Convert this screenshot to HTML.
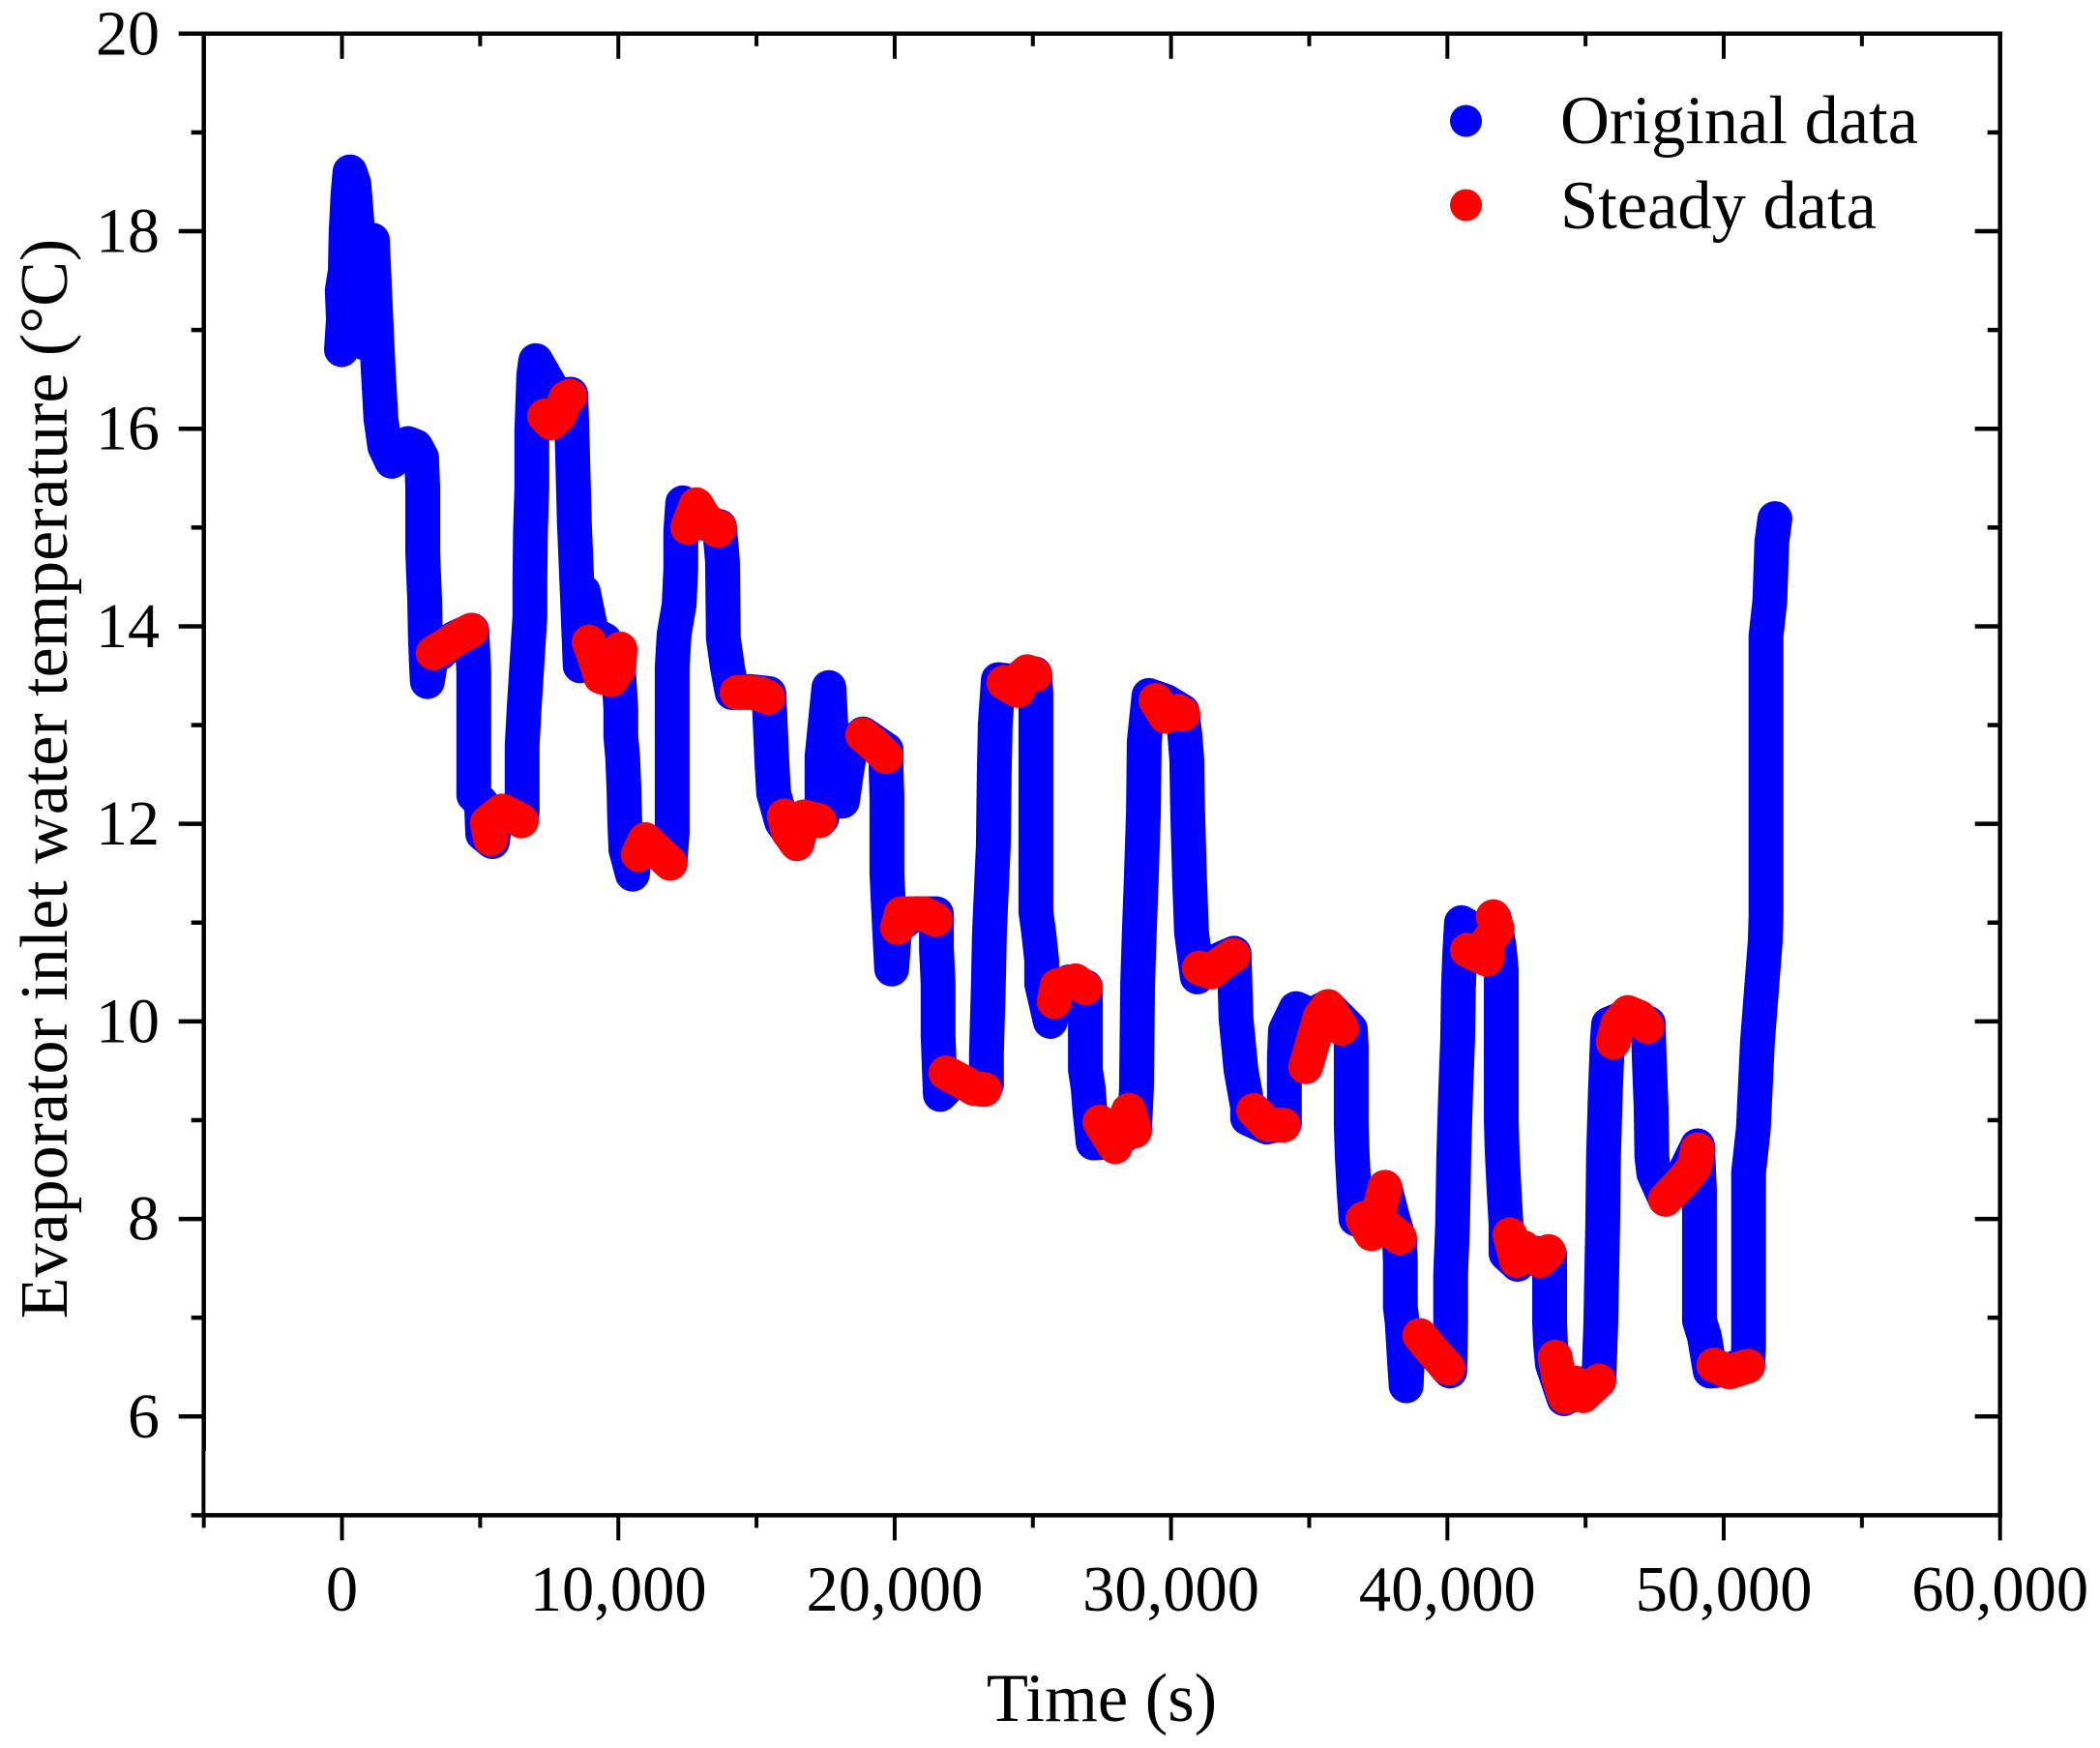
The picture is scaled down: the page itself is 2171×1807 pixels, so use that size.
<!DOCTYPE html>
<html lang="en">
<head>
<meta charset="utf-8">
<title>Evaporator inlet water temperature</title>
<style>
html,body{margin:0;padding:0;background:#fff;}
svg{display:block;}
text{font-family:"Liberation Serif",serif;fill:#000;}
</style>
</head>
<body>
<svg id="chart" xmlns="http://www.w3.org/2000/svg" width="2171" height="1807" viewBox="0 0 2171 1807">
<rect x="0" y="0" width="2171" height="1807" fill="#fff"/>
<g id="series"></g>
<g id="axes"></g>
<text x="1139" y="1779" font-size="70.5" text-anchor="middle">Time (s)</text>
<text transform="translate(69,805) rotate(-90)" font-size="70" text-anchor="middle">Evaporator inlet water temperature (°C)</text>
<g>
<circle cx="1515.5" cy="125" r="16.5" fill="#0000ff"/>
<text x="1613" y="148" font-size="70.5">Original data</text>
<circle cx="1515.5" cy="212" r="16.5" fill="#ff0000"/>
<text x="1613" y="236" font-size="70.5">Steady data</text>
</g>
</svg>
<script>
const xTicks = [-5000,0,5000,10000,15000,20000,25000,30000,35000,40000,45000,50000,55000,60000];
const xTickLabels = ["","0","","10,000","","20,000","","30,000","","40,000","","50,000","","60,000"];
const yTicks = [5,6,7,8,9,10,11,12,13,14,15,16,17,18,19,20];
const yTickLabels = ["","6","","8","","10","","12","","14","","16","","18","","20"];

const originalTime = [-20,50,10,120,150,220,290,430,540,640,780,430,920,1100,1210,1310,1410,1550,1800,2040,2390,2670,2880,2920,2920,2920,2920,2950,2990,3020,3060,3090,3230,3550,4070,4700,4770,4770,4770,4770,5050,5090,5440,5540,6520,6520,6520,6590,6800,6800,6820,6870,6870,6940,7010,7750,8280,8340,8410,8520,8620,8730,9040,9500,9740,10020,10090,10090,10160,10200,10230,10270,10510,10600,10970,11420,11880,11950,11950,11950,11950,11950,11950,11950,12020,12200,12260,12260,12330,13000,13660,13770,13800,13950,14120,14750,15450,15560,15620,15910,16460,16670,17370,17370,17620,17730,18110,18250,18420,18850,19690,19690,19720,19720,19720,19720,19720,19790,19890,20000,20700,21510,21510,21570,21570,21650,22100,23320,23320,23390,23430,23570,23600,23640,23750,24370,25070,25110,25110,25110,25110,25110,25110,25110,25110,25110,25110,25210,25320,25320,25630,25770,26300,26900,26900,26900,26900,27000,27070,27180,27880,28680,28750,28790,28850,28920,29000,29030,29200,29800,30400,30500,30570,30600,30670,30740,30950,31550,32280,32350,32530,32770,32770,33470,34100,34100,34100,34100,34140,34520,35080,35680,36490,36520,36520,36520,36520,36520,36560,36620,36690,37320,37740,38030,38270,38300,38300,38300,38370,38440,38510,38580,39000,39420,40090,40120,40120,40190,40230,40300,40370,40400,40440,40510,41170,41700,41880,41950,41950,41950,41950,41950,41950,41950,41950,41980,42050,42120,42120,42540,42930,43700,43700,43700,43700,43730,43800,44220,44500,45020,45480,45550,45620,45650,45720,45790,45830,46600,47270,47300,47370,47400,47470,47890,48530,49050,49120,49120,49120,49120,49120,49120,49300,49510,50280,50870,50900,50900,50900,50900,50900,50900,50900,50900,50900,51070,51220,51500,51530,51530,51530,51530,51530,51530,51530,51530,51530,51530,51530,51530,51670,51740,51850];
const originalTemp = [16.80,17.11,17.40,17.60,17.99,18.38,18.60,18.48,18.09,17.50,17.01,16.91,16.86,17.91,17.21,16.59,16.10,15.82,15.67,15.74,15.85,15.82,15.71,15.41,15.12,14.91,14.75,14.55,14.27,13.88,13.58,13.44,13.68,13.73,13.88,13.96,13.54,12.98,12.42,12.29,12.21,11.90,11.82,12.02,12.11,12.27,12.79,13.16,14.10,14.47,14.96,15.41,15.97,16.54,16.69,16.33,16.35,15.79,15.04,14.29,13.60,14.35,13.93,13.86,13.68,13.49,13.16,12.89,12.66,12.36,12.05,11.74,11.49,11.70,11.84,11.72,11.64,11.91,12.23,12.49,12.81,13.11,13.37,13.59,13.92,14.22,14.59,14.96,15.25,15.05,15.01,14.66,13.88,13.58,13.33,13.34,13.32,12.60,12.31,12.02,11.80,12.02,12.06,12.68,13.38,12.79,12.23,12.51,12.80,12.91,12.75,12.53,12.27,12.03,11.85,11.65,11.50,11.08,10.53,10.94,11.09,11.09,10.74,10.38,9.86,9.26,9.39,9.36,9.68,10.38,10.90,11.78,12.48,13.01,13.46,13.44,13.52,13.32,13.03,12.79,12.46,12.20,11.99,11.78,11.53,11.34,11.11,10.90,10.62,10.38,10.00,10.25,10.40,10.35,10.03,9.75,9.51,9.33,9.08,8.77,8.78,8.91,9.33,10.38,10.90,11.43,12.12,12.83,13.30,13.24,13.14,12.90,12.65,12.12,11.43,10.90,10.45,10.60,10.69,10.03,9.51,9.13,9.02,8.93,8.97,9.23,9.47,9.63,9.91,10.13,10.06,10.15,9.92,9.74,9.49,9.31,9.10,8.95,8.63,8.29,8.00,7.95,8.32,8.00,7.78,7.55,7.41,7.11,6.94,6.60,6.31,6.78,6.82,6.68,6.46,6.94,7.44,7.95,8.63,9.30,9.81,10.32,10.65,11.00,10.89,11.04,10.74,10.52,10.21,9.93,9.69,9.49,9.30,9.17,9.00,8.70,8.29,7.95,7.65,7.54,7.66,7.64,7.32,7.16,6.95,6.74,6.53,6.18,6.22,6.34,6.36,6.94,7.95,8.63,9.30,9.81,9.97,10.06,9.98,9.65,9.14,8.63,8.46,8.20,8.44,8.74,8.29,8.02,7.78,7.51,7.23,6.97,6.81,6.46,6.48,6.54,6.72,6.95,7.20,7.40,7.64,7.84,8.05,8.29,8.47,8.91,9.80,10.81,11.07,11.43,11.73,12.06,12.39,12.68,12.89,13.16,13.37,13.57,13.75,13.90,14.26,14.85,15.09];

const steadyTime = [3300,3720,4040,4350,4670,null,5370,5260,5470,5790,6170,6490,null,7330,7570,7850,8100,8240,null,8940,9150,9360,9740,10020,10060,null,10720,10970,11420,11880,null,12510,12820,13100,13590,13660,null,14290,14750,15100,15410,null,16000,16150,16460,16600,16710,17270,null,18840,19260,19680,null,20100,20240,21050,21470,null,21850,22450,22870,23250,null,23950,24450,24590,24800,25070,null,25770,25880,26540,26900,null,27420,27980,28220,28470,28680,null,29450,29800,30250,30430,null,31020,31450,31830,32250,null,32990,33470,34070,null,34870,35150,35400,35680,36170,null,37740,37500,36940,37250,37670,38270,null,39000,39420,40020,null,41660,41800,41420,41420,40720,null,42260,42500,42750,43340,43660,null,43900,44040,44250,44600,44910,45480,null,46000,46180,46530,46950,47230,null,47890,48630,48950,49050,null,49640,50200,50870];
const steadyTemp = [13.73,13.80,13.86,13.91,13.96,null,11.85,12.01,12.06,12.13,12.08,12.03,null,16.13,16.06,16.13,16.31,16.33,null,13.84,13.68,13.49,13.46,13.58,13.77,null,11.69,11.84,11.72,11.60,null,15.00,15.23,15.10,14.97,15.00,null,13.33,13.33,13.32,13.28,null,12.08,11.92,11.80,11.97,12.07,12.03,null,12.90,12.80,12.68,null,10.95,11.09,11.09,11.03,null,9.48,9.39,9.32,9.31,null,13.43,13.35,13.49,13.54,13.51,null,10.20,10.36,10.41,10.34,null,8.98,8.73,8.93,9.10,8.89,null,13.25,13.09,13.14,13.11,null,10.54,10.50,10.59,10.67,null,9.10,8.96,8.95,null,9.54,9.81,10.05,10.15,9.93,null,8.32,8.05,8.00,7.85,7.95,7.81,null,6.82,6.68,6.49,null,11.06,10.94,10.79,10.63,10.72,null,7.84,7.58,7.71,7.58,7.67,null,6.60,6.38,6.20,6.34,6.21,6.36,null,9.79,9.98,10.09,10.04,9.95,null,8.20,8.42,8.54,8.70,null,6.52,6.45,6.51];

const SVG_NS = "http://www.w3.org/2000/svg";
const plotLeft = 210.7, plotRight = 2067.7, plotTop = 34.8, plotBottom = 1566.4;
const xMin = -5000, xMax = 60000, yMin = 5, yMax = 20;
const markerRadius = 16.5, bandWidth = 36, axisWidth = 4.5;

function xScale(t) { return plotLeft + (t - xMin) / (xMax - xMin) * (plotRight - plotLeft); }
function yScale(v) { return plotBottom - (v - yMin) / (yMax - yMin) * (plotBottom - plotTop); }

function make(tag, parent, attrs) {
  const el = document.createElementNS(SVG_NS, tag);
  for (const k in attrs) el.setAttribute(k, attrs[k]);
  parent.appendChild(el);
  return el;
}

function drawSeries(parent, times, temps, colour, seriesName) {
  const group = make("g", parent, {});
  
  
  let d = "", pen = false;
  for (let i = 0; i < times.length; i++) {
    if (times[i] === null) { pen = false; continue; }
    d += (pen ? "L" : "M") + xScale(times[i]).toFixed(1) + " " + yScale(temps[i]).toFixed(1);
    pen = true;
  }
  const band = make("path", group, {d: d, fill: "none", stroke: colour, "stroke-width": bandWidth, "stroke-linejoin": "round", "stroke-linecap": "round"});
  
  
  for (let i = 0; i < times.length; i++) {
    if (times[i] === null) continue;
    const dot = make("circle", group, {cx: xScale(times[i]).toFixed(1), cy: yScale(temps[i]).toFixed(1), r: markerRadius, fill: colour});
    
    
  }
}

const seriesLayer = document.getElementById("series");
drawSeries(seriesLayer, originalTime, originalTemp, "#0000ff", "original-data-series");
drawSeries(seriesLayer, steadyTime, steadyTemp, "#ff0000", "steady-data-series");

const axesLayer = document.getElementById("axes");
function axisLine(x1, y1, x2, y2, name, width) {
  const ln = make("line", axesLayer, {x1: x1, y1: y1, x2: x2, y2: y2, stroke: "#000", "stroke-width": width});
  
  
}
axisLine(plotLeft, plotTop - 2.2, plotLeft, 1500, "left-axis", axisWidth);
axisLine(plotLeft - 0.3, 1500, plotLeft - 0.3, plotBottom + 2, "left-axis-lower", 4);
axisLine(plotRight, plotTop - 2.2, plotRight, plotBottom + 2.2, "right-axis", axisWidth);
axisLine(plotLeft - 2.2, plotTop, plotRight + 2.2, plotTop, "top-axis", axisWidth);
axisLine(plotLeft - 2.2, plotBottom, plotRight + 2.2, plotBottom, "bottom-axis", axisWidth);

xTicks.forEach(function (t, i) {
  const x = xScale(t);
  const major = xTickLabels[i] !== "";
  const len = major ? 26 : 13;
  axisLine(x, plotBottom, x, plotBottom + len, "x-tick", 4);
  if (t > xMin && t < xMax) axisLine(x, plotTop, x, plotTop + len, "x-tick-top", 4);
  if (major) {
    const label = make("text", axesLayer, {x: x, y: 1665, "font-size": 66.5, "text-anchor": "middle"});
    
    
    label.textContent = xTickLabels[i];
  }
});

yTicks.forEach(function (v, i) {
  const y = yScale(v);
  const major = yTickLabels[i] !== "";
  const len = major ? 26 : 13;
  axisLine(plotLeft - len, y, plotLeft, y, "y-tick", 4.5);
  if (v > yMin && v < yMax) axisLine(plotRight - len, y, plotRight, y, "y-tick-right", 4.5);
  if (major) {
    const label = make("text", axesLayer, {x: 165, y: y + 21.5, "font-size": 66, "text-anchor": "end"});
    
    
    label.textContent = yTickLabels[i];
  }
});
</script>
</body>
</html>
